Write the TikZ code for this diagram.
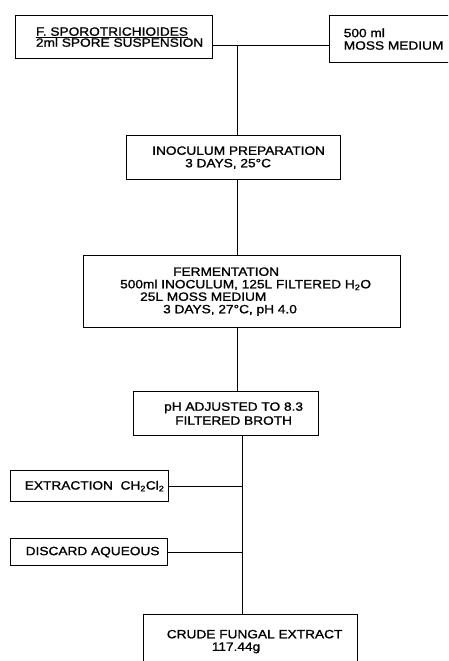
\documentclass[tikz,border=0pt]{standalone}
\usepackage{fontspec}
\setmainfont{Liberation Sans}[FakeStretch=1.14, FakeBold=1.2]
\usetikzlibrary{positioning}

\begin{document}
\begin{tikzpicture}[x=1pt, y=-1pt, line width=1pt,
    stepbox/.style={draw, line width=1.2pt, anchor=north west, inner sep=0pt, align=left},
    font=\fontsize{12}{12.5}\selectfont]

    \clip (0,0) rectangle (448,661);

    % Top row: spore suspension and medium
    \node[stepbox, minimum width=197pt, minimum height=43pt, font=\fontsize{12}{11}\selectfont] (spore) at (15,15)
        {\hspace*{11pt}\underline{F. SPOROTRICHIOIDES}\\ \hspace*{11pt}2ml SPORE SUSPENSION};
    \node[stepbox, minimum width=128pt, minimum height=47pt] (moss) at (329,15)
        {500 ml\\MOSS MEDIUM};

    % Main steps
    \node[stepbox, minimum width=214pt, minimum height=44pt] (inoculum) at (126,135)
        {\hspace*{10pt}INOCULUM PREPARATION\\ \hspace*{43pt}3 DAYS, 25°C};
    \node[stepbox, minimum width=317pt, minimum height=72pt] (ferment) at (83,255)
        {\hspace*{60pt}FERMENTATION\\
         \hspace*{7pt}500ml INOCULUM, 125L FILTERED H\textsubscript{2}O\\
         \hspace*{27pt}25L MOSS MEDIUM\\
         \hspace*{50pt}3 DAYS, 27°C, pH 4.0};
    \node[stepbox, minimum width=185pt, minimum height=44pt, align=center, font=\fontsize{12}{14}\selectfont] (adjust) at (133,391)
        {\hspace*{15pt}pH ADJUSTED TO 8.3\\ \hspace*{15pt}FILTERED BROTH};

    % Side steps
    \node[stepbox, minimum width=158pt, minimum height=31pt] (extract) at (10,470)
        {\hspace*{10pt}EXTRACTION\ \ CH\textsubscript{2}Cl\textsubscript{2}};
    \node[stepbox, minimum width=157pt, minimum height=27pt] (discard) at (10,538)
        {\hspace*{7pt}DISCARD AQUEOUS};

    % Product
    \node[stepbox, minimum width=214pt, minimum height=54pt] (crude) at (143,614)
        {\hspace*{8pt}CRUDE FUNGAL EXTRACT\\ \hspace*{53pt}117.44g};

    % Connectors
    \coordinate (split) at (237.5,45.5);
    \coordinate (trunk) at (242.5,500);
    \draw (spore.east |- split) -- (moss.west |- split);
    \draw (split) -- (split |- inoculum.north);
    \draw (split |- inoculum.south) -- (split |- ferment.north);
    \draw (split |- ferment.south) -- (split |- adjust.north);
    \draw (trunk |- adjust.south) -- (trunk |- crude.north);
    \draw (extract.east) -- (extract.east -| trunk);
    \draw (discard.east) -- (discard.east -| trunk);

\end{tikzpicture}
\end{document}
